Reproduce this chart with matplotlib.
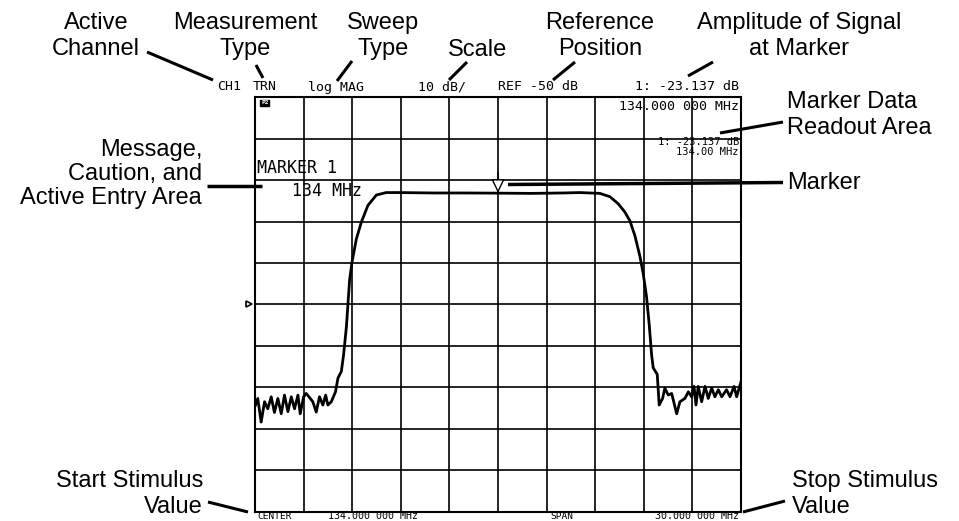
import matplotlib
matplotlib.use("Agg")
import matplotlib.pyplot as plt
from matplotlib.lines import Line2D
import matplotlib.transforms as mtransforms

# ---------------- data ----------------
center_mhz = 134.0
span_mhz = 30.0
ref_level_db = -50
scale_db_per_div = 10
marker_freq = 134.0
marker_db = -23.137

freq_mhz = [119.03, 119.17, 119.38, 119.59, 119.79, 120.00, 120.20, 120.41, 120.62,
            120.82, 121.03, 121.24, 121.44, 121.65, 121.79, 122.00, 122.16, 122.37,
            122.57, 122.78, 122.98, 123.19, 123.36, 123.50, 123.71, 123.97, 124.12,
            124.33, 124.47, 124.64, 124.74, 124.84, 124.98, 125.25, 125.56, 125.97,
            126.49, 127.10, 127.93, 130.0, 132.0, 134.0, 136.0, 138.0, 139.05,
            140.29, 140.91, 141.42, 141.83, 142.14, 142.45, 142.76, 142.96, 143.17,
            143.33, 143.48, 143.58, 143.83, 143.95, 144.16, 144.30, 144.51, 144.72,
            145.03, 145.23, 145.54, 145.75, 145.95, 146.10, 146.22, 146.36, 146.57,
            146.78, 146.98, 147.19, 147.39, 147.60, 147.81, 148.11, 148.32, 148.57,
            148.73, 149.0]
trace_db = [-74.3, -72.7, -78.4, -73.5, -75.2, -72.3, -76.1, -72.7, -76.4,
            -71.9, -75.9, -72.3, -75.2, -71.9, -76.4, -72.3, -71.5, -72.5,
            -73.5, -76.0, -72.3, -74.3, -71.9, -74.3, -73.5, -71.1, -67.8,
            -66.2, -62.1, -55.5, -49.8, -44.1, -40.0, -34.3, -30.2, -26.1,
            -23.6, -23.0, -23.0, -23.1, -23.1, -23.14, -23.2, -23.1, -23.0,
            -23.2, -24.0, -25.7, -27.7, -29.8, -33.4, -38.4, -42.5, -48.2,
            -54.7, -62.1, -65.3, -66.9, -74.3, -72.7, -70.2, -71.9, -71.5,
            -76.4, -73.5, -72.7, -71.1, -72.3, -69.8, -74.3, -69.8, -73.5,
            -69.8, -72.7, -70.2, -72.3, -70.6, -72.3, -70.6, -72.3, -69.8,
            -72.3, -68.7]

# ---------------- figure ----------------
W, H = 959, 521
fig = plt.figure(figsize=(W / 100, H / 100), dpi=100)
fig.patch.set_facecolor("white")

def fx(x):
    return x / W

def fy(y):
    return 1 - y / H

ax = fig.add_axes([fx(255), fy(511.5), 486 / W, 414.2 / H])
f_start = center_mhz - span_mhz / 2
f_stop = center_mhz + span_mhz / 2
top_db = ref_level_db + 5 * scale_db_per_div
bot_db = ref_level_db - 5 * scale_db_per_div
ax.set_xlim(f_start, f_stop)
ax.set_ylim(bot_db, top_db)
xt = [f_start + i * span_mhz / 10 for i in range(11)]
yt = [bot_db + i * scale_db_per_div for i in range(11)]
ax.set_xticks(xt)
ax.set_yticks(yt)
ax.tick_params(length=0, labelbottom=False, labelleft=False)
ax.grid(True, color="black", linewidth=1.2)
for s in ax.spines.values():
    s.set_linewidth(1.5)
    s.set_color("black")

ax.plot(freq_mhz, trace_db, color="black", linewidth=2.0, zorder=3)

# marker arrow
ax.annotate("", xy=(marker_freq, marker_db), xytext=(0, 15), textcoords="offset points",
            arrowprops=dict(arrowstyle="-|>,head_length=0.42,head_width=0.2",
                            mutation_scale=20, fc="white", ec="black", lw=1.0,
                            shrinkA=0, shrinkB=0), zorder=4)

# reference position triangle
trans = mtransforms.blended_transform_factory(ax.transAxes, ax.transData)
ax.plot([-0.012], [ref_level_db], marker=">", ms=5, mfc="white", mec="black",
        mew=1.2, transform=trans, clip_on=False)

# ---------------- screen texts ----------------
mono = "DejaVu Sans Mono"
def scr(x, y, s, size=9.5, ha="left", va="center", **kw):
    fig.text(fx(x), fy(y), s, fontsize=size, family=mono, ha=ha, va=va, **kw)

scr(217, 87, "CH1")
scr(253, 87, "TRN")
scr(308, 87, "log MAG")
scr(418, 87, "10 dB/")
scr(498, 87, "REF -50 dB")
scr(739, 87, "1: -23.137 dB", ha="right")
scr(739, 106, "134.000 000 MHz", ha="right")
scr(739, 142, "1: -23.137 dB", ha="right", size=7.5)
scr(739, 152, "134.00 MHz", ha="right", size=7.5)
scr(257, 521, "CENTER", size=6.8, va="bottom")
scr(328, 521, "134.000 000 MHz", size=7.2, va="bottom")
scr(550, 521, "SPAN", size=6.8, va="bottom")
scr(739, 521, "30.000 000 MHz", size=7.2, ha="right", va="bottom")
scr(257, 168, "MARKER 1", size=12)
scr(292, 191, "134 MHz", size=12)
fig.text(fx(261), fy(103), "P2", fontsize=4.5, family=mono, ha="left", va="center",
         color="white", fontweight="bold",
         bbox=dict(boxstyle="square,pad=0.1", fc="black", ec="black"))

# ---------------- annotations ----------------
sans = "Liberation Sans"
def lab(x, y, s, ha="center", ls=1.22):
    fig.text(fx(x), fy(y), s, fontsize=17, family=sans, ha=ha, va="center",
             multialignment=ha, linespacing=ls)

lab(96, 36, "Active\nChannel")
lab(245, 36, "Measurement\nType")
lab(383, 36, "Sweep\nType")
lab(478, 50, "Scale")
lab(600, 36, "Reference\nPosition")
lab(799, 36, "Amplitude of Signal\nat Marker")
lab(787, 115, "Marker Data\nReadout Area", ha="left")
lab(787, 183, "Marker", ha="left")
lab(202, 174, "Message,\nCaution, and\nActive Entry Area", ha="right", ls=1.13)
lab(203, 494, "Start Stimulus\nValue", ha="right")
lab(792, 494, "Stop Stimulus\nValue", ha="left")

def lead(x0, y0, x1, y1, lw=2.2):
    fig.add_artist(Line2D([fx(x0), fx(x1)], [fy(y0), fy(y1)], color="black",
                          linewidth=lw, solid_capstyle="butt"))

lead(147, 52, 213, 80)
lead(256, 65, 263, 78)
lead(352, 61, 337, 81)
lead(467, 62, 449, 80)
lead(575, 62, 553, 80)
lead(713, 62, 688, 76)
lead(783, 122, 720, 133)
lead(508, 184.5, 783, 182.5, lw=2.5)
lead(207, 186, 262, 186, lw=2.5)
lead(208, 502, 248, 512)
lead(743, 512, 785, 501)

fig.savefig("out.png", dpi=100, facecolor="white")
